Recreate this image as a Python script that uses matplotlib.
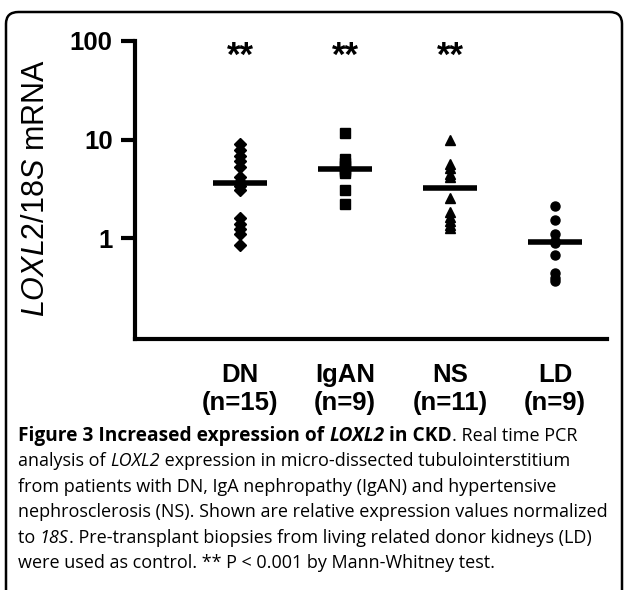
import matplotlib
matplotlib.use("Agg")
import matplotlib.pyplot as plt
from matplotlib.patches import FancyBboxPatch

# values (LOXL2/18S mRNA, log scale)
groups = ["DN", "IgAN", "NS", "LD"]
group_n = ["(n=15)", "(n=9)", "(n=11)", "(n=9)"]
markers = ["D", "s", "^", "o"]
dn_vals = [9.0, 7.8, 6.8, 6.0, 5.3, 4.2, 3.75, 3.65, 3.35, 3.1, 1.6, 1.4, 1.23, 1.1, 0.86]
igan_vals = [11.6, 6.3, 5.8, 5.4, 5.0, 4.8, 4.6, 3.1, 2.2]
ns_vals = [9.9, 5.7, 5.1, 4.5, 4.2, 2.55, 1.86, 1.66, 1.5, 1.38, 1.28]
ld_vals = [2.1, 1.55, 1.1, 0.95, 0.9, 0.68, 0.45, 0.4, 0.37]
medians = [3.65, 5.0, 3.2, 0.92]
stars = ["**", "**", "**", ""]
all_vals = [dn_vals, igan_vals, ns_vals, ld_vals]

plt.rcParams["mathtext.fontset"] = "custom"
plt.rcParams["mathtext.rm"] = "Liberation Sans"
plt.rcParams["mathtext.it"] = "Liberation Sans:italic"

fig = plt.figure(figsize=(6.24, 5.9), dpi=100)
ax = fig.add_axes([0.2163, 0.4254, 0.7572, 0.5056])

for i, vals in enumerate(all_vals):
    x = i + 1
    size = 7.5 if markers[i] == "s" else 6.5
    ax.plot([x] * len(vals), vals, linestyle="none", marker=markers[i],
            color="black", markersize=size)
    ax.plot([x - 0.26, x + 0.26], [medians[i], medians[i]], color="black", lw=4,
            solid_capstyle="butt")
    if stars[i]:
        ax.text(x, 70, stars[i], ha="center", va="center", fontsize=25,
                fontweight="bold", family="Liberation Sans")

ax.set_yscale("log")
ax.set_ylim(0.0957, 100)
ax.set_xlim(0, 4.5)
ax.set_yticks([1, 10, 100])
ax.set_yticklabels(["1", "10", "100"])
ax.minorticks_off()
ax.set_xticks(range(1, 5))
ax.set_xticklabels([f"{g}\n{n}" for g, n in zip(groups, group_n)], linespacing=1.25)
for s in ["top", "right"]:
    ax.spines[s].set_visible(False)
for s in ["left", "bottom"]:
    ax.spines[s].set_linewidth(3)
ax.tick_params(axis="y", direction="out", length=10, width=3, pad=6)
ax.tick_params(axis="x", length=0, pad=17)
for lab in ax.get_yticklabels() + ax.get_xticklabels():
    lab.set_fontfamily("Liberation Sans")
    lab.set_fontweight("bold")
    lab.set_fontsize(18.5)
ax.set_ylabel(r"$\mathit{LOXL2/18S}$ mRNA", fontsize=22, family="Liberation Sans")
ax.yaxis.set_label_coords(-0.178, 0.505)

# rounded frame, cut off at the bottom like the reference
frame = FancyBboxPatch((6 / 624, -0.1), 616 / 624, 1.1 - 12 / 590,
                       boxstyle="round,pad=0,rounding_size=0.02",
                       transform=fig.transFigure, fill=False, lw=1.8,
                       edgecolor="black", clip_on=False)
fig.patches.append(frame)

# caption with mixed weights
caption = [
    [("Figure 3 Increased expression of ", "bold", "normal"), ("LOXL2", "bold", "italic"),
     (" in CKD", "bold", "normal"), (". Real time PCR", "normal", "normal")],
    [("analysis of ", "normal", "normal"), ("LOXL2", "normal", "italic"),
     (" expression in micro-dissected tubulointerstitium", "normal", "normal")],
    [("from patients with DN, IgA nephropathy (IgAN) and hypertensive", "normal", "normal")],
    [("nephrosclerosis (NS). Shown are relative expression values normalized", "normal", "normal")],
    [("to ", "normal", "normal"), ("18S", "normal", "italic"),
     (". Pre-transplant biopsies from living related donor kidneys (LD)", "normal", "normal")],
    [("were used as control. ** P < 0.001 by Mann-Whitney test.", "normal", "normal")],
]
fig.canvas.draw()
renderer = fig.canvas.get_renderer()
y_px = 436
for line in caption:
    x_px = 18
    for txt, weight, style in line:
        size = 13.8 if weight == "bold" else 13.0
        t = fig.text(x_px / 624, 1 - y_px / 590, txt, fontsize=size, family="Open Sans",
                     fontweight=weight, fontstyle=style, va="center", ha="left")
        bb = t.get_window_extent(renderer)
        x_px += bb.width
    y_px += 25.4

fig.savefig("out.png", dpi=100)
